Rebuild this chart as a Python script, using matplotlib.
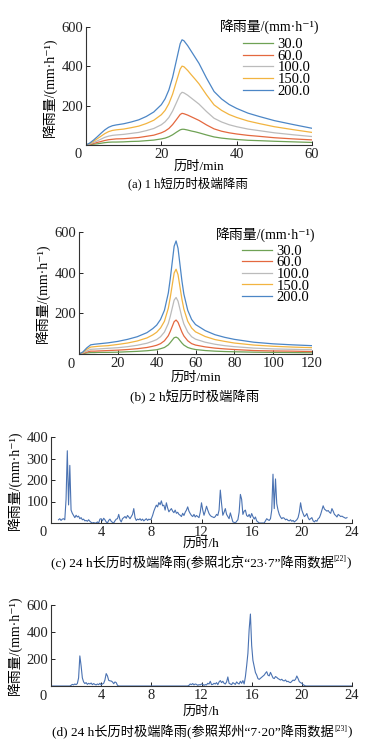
import numpy as np
import matplotlib
matplotlib.use("Agg")
import matplotlib.pyplot as plt

plt.rcParams["font.family"] = ["Liberation Serif", "Noto Sans CJK SC", "DejaVu Sans"]
plt.rcParams["font.size"] = 10.5

# ---- (a) 1 h design storms, min -> mm/h
levels = ["30.0", "60.0", "100.0", "150.0", "200.0"]
colors = ["#6FA255", "#E4683F", "#BBBBBB", "#F2B440", "#4C86C6"]

t_a = [0, 1, 2, 3, 4, 5, 6, 7, 8, 10, 12, 14, 16, 18, 20, 21, 22, 23, 24, 25, 25.5,
       26, 27, 28, 29, 30, 32, 34, 36, 38, 40, 43, 46, 50, 55, 60]
a_30 = [0, 2, 4, 6, 9, 12, 14, 15, 15, 16, 18, 19, 22, 25, 31, 35, 42, 52, 65, 77, 80,
        80, 76, 71, 67, 62, 51, 41, 35, 31, 28, 24, 22, 19, 16, 13]
a_60 = [0, 3, 8, 13, 18, 23, 27, 29, 31, 32, 35, 38, 44, 50, 62, 71, 84, 104, 129, 155, 161,
        159, 152, 143, 134, 125, 102, 82, 70, 62, 56, 49, 44, 37, 31, 26]
a_100 = [0, 5, 13, 21, 30, 39, 45, 49, 51, 54, 59, 64, 73, 84, 103, 118, 140, 173, 215, 258, 268,
         265, 253, 238, 223, 208, 170, 136, 117, 103, 93, 81, 73, 62, 52, 43]
a_150 = [0, 8, 19, 32, 45, 58, 68, 74, 77, 81, 88, 96, 109, 126, 154, 176, 210, 259, 323, 386, 401,
         398, 379, 356, 334, 311, 255, 204, 176, 155, 140, 122, 109, 93, 78, 64]
a_200 = [0, 10, 25, 42, 60, 77, 90, 98, 102, 108, 117, 128, 145, 168, 205, 235, 280, 345, 430, 515, 535,
         530, 505, 475, 445, 415, 340, 272, 234, 206, 186, 162, 145, 124, 104, 85]

# ---- (b) 2 h design storms
t_b = [0, 2, 4, 6, 8, 10, 15, 20, 25, 30, 35, 38, 40, 42, 44, 46, 47, 48, 49, 50, 51, 52,
       53, 54, 56, 58, 60, 65, 70, 75, 80, 90, 100, 110, 120]
b_30 = [0, 2, 5, 7, 7, 8, 8, 9, 11, 13, 16, 19, 21, 26, 32, 45, 56, 68, 80, 83, 78, 66,
        54, 44, 32, 26, 22, 17, 14, 12, 11, 9, 8, 7, 6]
b_60 = [0, 3, 9, 14, 14, 15, 17, 19, 22, 26, 32, 38, 43, 51, 65, 90, 111, 135, 159, 167, 156, 132,
        108, 89, 65, 51, 44, 35, 29, 25, 22, 17, 15, 14, 12]
b_100 = [0, 5, 15, 23, 24, 25, 28, 31, 36, 43, 53, 63, 71, 85, 108, 150, 185, 225, 265, 278, 260, 220,
         180, 148, 108, 85, 73, 58, 48, 41, 36, 29, 25, 23, 21]
b_150 = [0, 8, 23, 34, 36, 38, 41, 47, 54, 64, 79, 94, 107, 128, 161, 225, 278, 338, 398, 417, 390, 330,
         270, 221, 161, 128, 109, 86, 71, 62, 54, 44, 38, 34, 31]
b_200 = [0, 10, 30, 45, 48, 50, 55, 62, 72, 85, 105, 125, 142, 170, 215, 300, 370, 450, 530, 556, 520, 440,
         360, 295, 215, 170, 145, 115, 95, 82, 72, 58, 50, 45, 41]

# ---- (c) Beijing "23.7", 0.1 h steps, rows start at given hour
c_rows = [
    (0.6, [15, 20, 12, 18]),
    (1.0, [20, 15, 110, 336, 84, 268, 60, 45, 35, 25]),
    (2.0, [36, 28, 32, 20, 25, 15, 18, 10, 12, 8]),
    (3.0, [15, 8, 3, 0, 2, 0, 0, 5, 0, 18]),
    (4.0, [20, 10, 22, 15, 5, 0, 12, 18, 8, 3]),
    (5.0, [0, 10, 18, 20, 40, 15, 5, 20, 25, 30]),
    (6.0, [22, 35, 28, 20, 30, 40, 67, 25, 12, 18]),
    (7.0, [15, 20, 12, 18, 10, 15, 20, 12, 18, 15]),
    (8.0, [20, 35, 55, 70, 83, 75, 95, 85, 103, 80]),
    (9.0, [83, 60, 94, 70, 52, 60, 67, 55, 48, 60]),
    (10.0, [45, 50, 40, 36, 30, 45, 35, 50, 60, 75]),
    (11.0, [55, 44, 35, 30, 40, 28, 35, 30, 25, 50]),
    (12.0, [94, 60, 36, 55, 78, 60, 44, 35, 30, 28]),
    (13.0, [25, 30, 40, 35, 60, 153, 90, 36, 50, 67]),
    (14.0, [40, 30, 20, 47, 25, 5, 3, 0, 8, 15]),
    (15.0, [50, 133, 110, 40, 55, 60, 35, 30, 40, 25]),
    (16.0, [44, 30, 18, 28, 10, 5, 0, 0, 0, 0]),
    (17.0, [0, 10, 20, 15, 12, 20, 60, 227, 67, 205]),
    (18.0, [90, 60, 40, 28, 20, 25, 22, 15, 18, 12]),
    (19.0, [10, 15, 8, 12, 5, 10, 15, 25, 50, 94]),
    (20.0, [60, 44, 30, 35, 44, 25, 15, 20, 25, 10]),
    (21.0, [5, 12, 8, 20, 25, 40, 60, 80, 65, 60]),
    (22.0, [55, 58, 50, 45, 67, 55, 40, 35, 28, 40]),
    (23.0, [35, 30, 32, 28, 25, 22, 25]),
]

# ---- (d) Zhengzhou "7.20"
d_rows = [
    (0.0, [0]),
    (1.5, [0, 5, 12, 8, 15, 10, 18, 60, 223, 150, 60, 30, 18, 25, 12, 20, 15, 22, 10, 18,
           12, 8, 15, 10, 20, 8, 15, 20, 45, 92, 75, 42, 38, 37, 30, 17, 30, 25, 5, 0]),
    (10.9, [0, 5, 15, 10, 18, 8, 15, 12, 5, 10, 8]),
    (12.0, [15, 12, 5, 10, 8, 20, 15, 35, 10, 12]),
    (13.0, [20, 15, 25, 10, 30, 40, 25, 35, 20, 15]),
    (14.0, [30, 67, 20, 15, 10, 25, 18, 12, 30, 20]),
    (15.0, [15, 35, 20, 40, 15, 69, 150, 242, 420, 533]),
    (16.0, [300, 190, 143, 100, 81, 55, 49, 57, 65, 72]),
    (17.0, [81, 95, 106, 80, 75, 101, 80, 60, 55, 70]),
    (18.0, [64, 55, 50, 44, 50, 40, 38, 45, 32, 35]),
    (19.0, [28, 25, 35, 44, 40, 50, 74, 55, 32, 25]),
    (20.0, [20, 10, 5, 0]),
    (24.0, [0]),
]


def unroll(rows):
    t, v = [], []
    for start, vals in rows:
        for i, val in enumerate(vals):
            t.append(round(start + 0.1 * i, 2))
            v.append(val)
    return t, v


W, H = 372, 750
fig = plt.figure(figsize=(W / 100, H / 100), dpi=100)
YLAB = "降雨量/(mm·h⁻¹)"
FS = 10.5


def px_box(l, t, r, b):
    return [l / W, 1 - b / H, (r - l) / W, (b - t) / H]


def style(ax, xmax, xticks, ymax, yticks):
    for s in ["top", "right"]:
        ax.spines[s].set_visible(False)
    for s in ["left", "bottom"]:
        ax.spines[s].set_linewidth(0.8)
        ax.spines[s].set_color("#333333")
    ax.set_xlim(0, xmax)
    ax.set_ylim(0, ymax)
    ax.set_xticks(xticks)
    ax.set_yticks(yticks)
    ax.tick_params(direction="in", length=3, width=0.7, pad=2, colors="#222222", labelsize=FS)
    ax.annotate("0", xy=(0, 0), xycoords="axes fraction", xytext=(-8, -10),
                textcoords="offset pixels", ha="center", va="center", fontsize=FS, color="#222222")


def ftext(x, y, s, **kw):
    return fig.text(x / W, 1 - y / H, s, **kw)


def add_legend(ax, left, top, title_xy):
    ax.legend(loc="upper left", bbox_to_anchor=(left / W, 1 - top / H),
              bbox_transform=fig.transFigure, frameon=False,
              handlelength=2.05, handletextpad=0.3, labelspacing=-0.11,
              borderpad=0, borderaxespad=0, fontsize=FS)
    ftext(title_xy[0], title_xy[1], YLAB, ha="center", va="center", fontsize=10)


# (a)
ax = fig.add_axes(px_box(86, 27, 312, 145))
for lab, col, ys in zip(levels, colors, [a_30, a_60, a_100, a_150, a_200]):
    ax.plot(t_a, ys, color=col, lw=0.9, label=lab)
style(ax, 60, [20, 40, 60], 600, [200, 400, 600])
add_legend(ax, 243, 38, (270, 27))
ftext(50, 87, YLAB, rotation=90, ha="center", va="center", fontsize=10)
ftext(199, 167, "历时/min", ha="center", va="center", fontsize=9.5)

# (b)
ax = fig.add_axes(px_box(79, 232, 312, 354))
for lab, col, ys in zip(levels, colors, [b_30, b_60, b_100, b_150, b_200]):
    ax.plot(t_b, ys, color=col, lw=0.9, label=lab)
style(ax, 120, [20, 40, 60, 80, 100, 120], 600, [200, 400, 600])
add_legend(ax, 242, 244.5, (266, 235))
ftext(43, 293, YLAB, rotation=90, ha="center", va="center", fontsize=10)
ftext(196, 378, "历时/min", ha="center", va="center", fontsize=9.5)

# (c)
ax = fig.add_axes(px_box(51, 437, 352, 523))
tc, vc = unroll(c_rows)
ax.plot(tc, vc, color="#4A72B2", lw=0.8)
style(ax, 24, [4, 8, 12, 16, 20, 24], 400, [100, 200, 300, 400])
ftext(15, 480, YLAB, rotation=90, ha="center", va="center", fontsize=10)
ftext(201, 544, "历时/h", ha="center", va="center", fontsize=9.5)

# (d)
ax = fig.add_axes(px_box(51, 605, 352, 686))
td, vd = unroll(d_rows)
ax.plot(td, vd, color="#4A72B2", lw=0.8)
style(ax, 24, [4, 8, 12, 16, 20, 24], 600, [200, 400, 600])
ftext(15, 645, YLAB, rotation=90, ha="center", va="center", fontsize=10)
ftext(201, 712, "历时/h", ha="center", va="center", fontsize=9.5)


# captions, with small raised reference marks
def caption(xc, y, parts):
    r = fig.canvas.get_renderer()
    objs = []
    for s, size, lift in parts:
        objs.append((ftext(0, y - lift, s, ha="left", va="center", fontsize=size), lift))
    widths = [o.get_window_extent(r).width for o, _ in objs]
    x = xc - sum(widths) / 2
    for (o, lift), w in zip(objs, widths):
        o.set_position((x / W, 1 - (y - lift) / H))
        x += w


caption(188, 183, [("(a) 1 h短历时极端降雨", 9.0, 0)])
caption(195, 397, [("(b) 2 h短历时极端降雨", 9.6, 0)])
caption(201, 563, [("(c) 24 h长历时极端降雨(参照北京“23·7”降雨数据", 9.6, 0),
                   ("[22]", 5.5, 3.5), (")", 9.6, 0)])
caption(202, 732, [("(d) 24 h长历时极端降雨(参照郑州“7·20”降雨数据", 9.5, 0),
                   ("[23]", 5.5, 3.5), (")", 9.5, 0)])

fig.savefig("out.png", dpi=100)
